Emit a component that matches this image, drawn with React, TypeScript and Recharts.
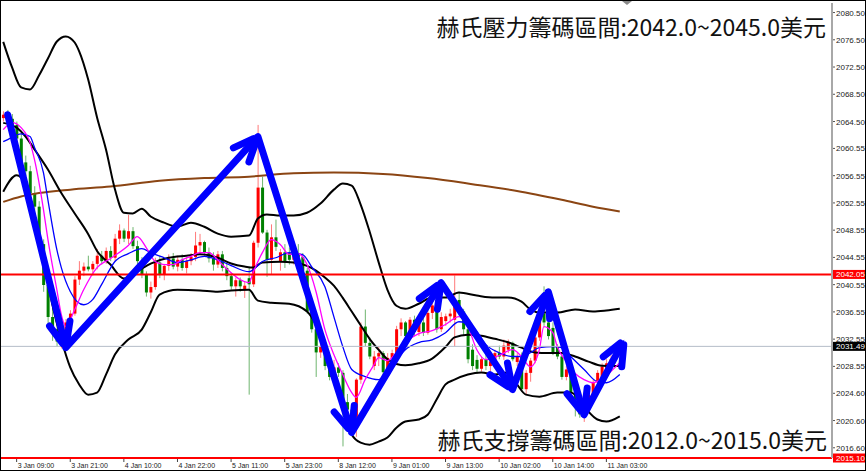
import React from 'react';
import { ComposedChart, Bar, Line, XAxis, YAxis, ReferenceLine } from 'recharts';

// ---- data ----
// [open, high, low, close] per hourly bar
const ohlc: [number, number, number, number][] = [
  [2065.0, 2066.0, 2064.5, 2065.5],
  [2065.5, 2066.2, 2064.6, 2064.9],
  [2064.9, 2065.6, 2063.5, 2064.0],
  [2064.0, 2064.5, 2061.5, 2062.0],
  [2062.0, 2062.8, 2058.0, 2058.5],
  [2058.5, 2059.5, 2056.5, 2057.2],
  [2057.2, 2058.0, 2053.5, 2054.0],
  [2054.0, 2055.0, 2051.0, 2052.0],
  [2052.0, 2052.8, 2045.5, 2046.5],
  [2046.5, 2047.2, 2039.5, 2040.5],
  [2040.5, 2041.5, 2034.5, 2035.8],
  [2035.8, 2037.5, 2032.3, 2034.0],
  [2034.0, 2035.0, 2031.5, 2032.2],
  [2032.2, 2033.5, 2031.2, 2032.8],
  [2032.8, 2035.5, 2032.0, 2035.0],
  [2035.0, 2036.8, 2034.3, 2036.3],
  [2036.3, 2041.8, 2036.0, 2041.3],
  [2041.3, 2044.0, 2040.5, 2042.6],
  [2042.6, 2043.8, 2041.8, 2043.2],
  [2043.2, 2044.8, 2042.5, 2042.8],
  [2042.8, 2044.0, 2041.9, 2043.6],
  [2043.6, 2045.8, 2042.8, 2044.8],
  [2044.8, 2045.5, 2043.5, 2044.0],
  [2044.0, 2046.0, 2043.6, 2045.5],
  [2045.5, 2046.2, 2044.0, 2044.5],
  [2044.5, 2048.0, 2044.0, 2047.3],
  [2047.3, 2049.4, 2046.5, 2048.5],
  [2048.5, 2048.8, 2046.8, 2047.3],
  [2047.3, 2050.8, 2046.5, 2048.4],
  [2048.4, 2049.0, 2045.8, 2046.2],
  [2046.2, 2047.0, 2043.5, 2044.0],
  [2044.0, 2044.6, 2041.5, 2042.0],
  [2042.0, 2042.5, 2038.8, 2039.4],
  [2039.4, 2041.0, 2038.5, 2040.2],
  [2040.2, 2044.5, 2039.8, 2043.8],
  [2043.8, 2044.8, 2041.5, 2042.0],
  [2042.0, 2043.6, 2041.2, 2043.3],
  [2043.3, 2045.0, 2042.6, 2044.4],
  [2044.4, 2045.2, 2042.8, 2043.2],
  [2043.2, 2044.8, 2042.5, 2044.2],
  [2044.2, 2045.0, 2042.6, 2043.0],
  [2043.0, 2044.6, 2042.2, 2044.0],
  [2044.0, 2045.2, 2043.4, 2044.6],
  [2044.6, 2048.3, 2044.0, 2046.3],
  [2046.3, 2048.0, 2045.0, 2046.8],
  [2046.8, 2047.0, 2044.8, 2045.3],
  [2045.3, 2046.0, 2043.8, 2044.4],
  [2044.4, 2045.3, 2042.6, 2043.5],
  [2043.5, 2045.5, 2043.0, 2045.0],
  [2045.0, 2045.5, 2042.5, 2043.0],
  [2043.0, 2043.8, 2041.2, 2041.8],
  [2041.8, 2042.3, 2039.8, 2040.3],
  [2040.3, 2041.6, 2038.8, 2041.2],
  [2041.2, 2041.6, 2039.5, 2040.3],
  [2039.8, 2041.0, 2038.6, 2040.4],
  [2041.5, 2043.2, 2024.4, 2040.6],
  [2040.6, 2047.0, 2040.2, 2046.7],
  [2046.7, 2064.0, 2046.0, 2054.8],
  [2054.8, 2056.4, 2048.0, 2048.2],
  [2048.2, 2048.6, 2041.7, 2044.2],
  [2044.2, 2049.4, 2042.0, 2047.5],
  [2047.5, 2050.1, 2045.5, 2046.1],
  [2044.0, 2045.8, 2042.6, 2045.3],
  [2045.3, 2046.5, 2043.0, 2044.0],
  [2045.2, 2046.0, 2043.5, 2044.2],
  [2044.2, 2045.5, 2043.5, 2045.0],
  [2045.0, 2046.5, 2044.2, 2044.6],
  [2044.6, 2045.2, 2042.2, 2042.6],
  [2042.6, 2043.0, 2036.3, 2036.6],
  [2036.6, 2037.5, 2033.5, 2034.0],
  [2034.0, 2034.6, 2027.0, 2030.6],
  [2030.6, 2032.0, 2029.8, 2031.4],
  [2031.4, 2031.8, 2028.0, 2028.6],
  [2028.6, 2030.0, 2026.5, 2027.0],
  [2027.0, 2029.5, 2026.5, 2028.4],
  [2028.4, 2029.0, 2027.0, 2027.6],
  [2027.6, 2028.0, 2016.8, 2023.3],
  [2023.3, 2024.5, 2021.0, 2022.2],
  [2022.2, 2023.0, 2018.5, 2019.5],
  [2019.5, 2026.8, 2018.2, 2026.6],
  [2026.6, 2035.0, 2026.0, 2034.4],
  [2034.4, 2036.9, 2031.5, 2032.0],
  [2032.0, 2032.8, 2029.6, 2030.0],
  [2028.6, 2030.8, 2028.0, 2030.0],
  [2030.0, 2031.5, 2028.6, 2030.5],
  [2030.5, 2030.8, 2027.2, 2027.7],
  [2027.7, 2030.5, 2027.0, 2029.8],
  [2029.8, 2031.0, 2028.2, 2030.5],
  [2030.5, 2034.5, 2030.0, 2034.0],
  [2034.0, 2035.6, 2033.0, 2035.0],
  [2035.0, 2035.2, 2032.5, 2033.0],
  [2033.0, 2035.8, 2032.8, 2035.4],
  [2035.4, 2036.0, 2033.0, 2033.6],
  [2033.6, 2035.5, 2033.0, 2035.0],
  [2035.0, 2036.5, 2033.0, 2033.5],
  [2033.5, 2037.0, 2033.2, 2036.4],
  [2036.4, 2038.2, 2035.5, 2037.5],
  [2037.5, 2037.8, 2033.5, 2034.0],
  [2034.0, 2036.5, 2033.6, 2035.8],
  [2035.2, 2036.3, 2034.5, 2035.9],
  [2035.9, 2037.0, 2035.0, 2036.3],
  [2035.4, 2041.9, 2031.5, 2038.3],
  [2038.3, 2039.5, 2036.0, 2036.6],
  [2036.6, 2037.0, 2033.0, 2034.0],
  [2034.0, 2034.4, 2029.0, 2029.6],
  [2031.0, 2031.8, 2028.0, 2028.6],
  [2029.5, 2030.2, 2027.5, 2028.2],
  [2028.2, 2030.0, 2027.8, 2029.6],
  [2029.6, 2030.5, 2028.0, 2028.6],
  [2028.6, 2029.8, 2027.8, 2029.3],
  [2029.3, 2031.0, 2028.5, 2030.5],
  [2030.5, 2031.6, 2029.6, 2030.0],
  [2030.0, 2032.5, 2029.5, 2031.6],
  [2031.0, 2032.5, 2030.5, 2032.0],
  [2032.0, 2032.2, 2029.3, 2029.6],
  [2029.2, 2030.5, 2028.6, 2030.0],
  [2030.0, 2030.6, 2024.8, 2025.2],
  [2025.2, 2028.0, 2024.5, 2027.6],
  [2027.6, 2029.8, 2026.3, 2029.4],
  [2029.4, 2033.2, 2029.0, 2032.8],
  [2032.8, 2036.0, 2032.3, 2035.6],
  [2036.3, 2040.3, 2034.5, 2035.0],
  [2035.0, 2035.5, 2032.5, 2033.0],
  [2034.2, 2035.0, 2030.2, 2030.6],
  [2031.4, 2031.8, 2029.6, 2030.0],
  [2030.0, 2030.5, 2026.6, 2027.0],
  [2027.0, 2028.6, 2026.5, 2028.1],
  [2027.2, 2027.8, 2024.3, 2024.7],
  [2025.1, 2025.6, 2021.2, 2023.7],
  [2023.7, 2024.2, 2021.0, 2021.5],
  [2021.2, 2023.0, 2020.4, 2022.6],
  [2022.8, 2024.8, 2022.3, 2024.4],
  [2024.4, 2026.6, 2024.0, 2026.2],
  [2026.2, 2028.0, 2025.8, 2027.6],
  [2027.0, 2029.0, 2026.6, 2028.5],
  [2028.0, 2029.6, 2027.5, 2029.0],
  [2028.6, 2030.2, 2028.0, 2029.6],
  [2029.6, 2031.0, 2029.0, 2030.5],
  [2030.3, 2031.8, 2030.0, 2031.49],
];

// [bar, value] samples of the indicator lines
const upperBand: [number, number][] = [
  [0, 2076.2], [2, 2072.4], [4, 2069.5], [6, 2069.2], [8, 2071.25], [10, 2073.75], [12, 2076.25],
  [14, 2077.0], [16, 2076.1], [17, 2074.8], [19, 2070.7], [21, 2065.1], [23, 2060.4], [25, 2054.55],
  [27, 2051.1], [29, 2051.0], [31, 2051.7], [33, 2050.55], [36, 2049.65], [39, 2049.05], [42, 2049.65],
  [45, 2049.05], [48, 2048.05], [51, 2047.6], [55, 2047.75], [57, 2050.25], [59, 2050.85], [62, 2050.7],
  [65, 2050.7], [68, 2051.1], [71, 2052.45], [74, 2054.5], [76, 2055.4], [78, 2055.1], [80, 2052.3],
  [82, 2048.35], [84, 2043.9], [86, 2039.8], [88, 2037.45], [90, 2037.0], [93, 2037.75], [96, 2038.65],
  [99, 2038.65], [102, 2039.4], [106, 2038.95], [110, 2038.65], [113, 2038.65], [116, 2038.05],
  [118, 2036.9], [120, 2036.45], [124, 2036.45], [128, 2036.9], [132, 2036.6], [135, 2036.75], [138, 2037.0],
];
const middleBand: [number, number][] = [
  [0, 2064.3], [3, 2063.6], [5, 2062.3], [7, 2060.4], [10, 2057.45], [13, 2054.0], [16, 2051.0],
  [19, 2048.0], [21, 2045.5], [24, 2043.5], [27, 2041.45], [30, 2042.5], [33, 2043.65], [37, 2044.5],
  [41, 2044.8], [44, 2045.0], [48, 2044.5], [51, 2043.65], [54, 2043.2], [56, 2043.05], [58, 2043.8],
  [62, 2043.9], [65, 2043.8], [68, 2043.3], [70, 2042.6], [72, 2041.6], [74, 2040.4], [76, 2038.6],
  [78, 2036.6], [80, 2034.6], [82, 2032.6], [84, 2031.0], [86, 2029.6], [88, 2028.9], [90, 2028.7],
  [93, 2029.0], [96, 2029.7], [99, 2031.4], [101, 2032.8], [104, 2033.2], [107, 2033.05], [110, 2032.6],
  [113, 2032.1], [116, 2031.3], [119, 2030.6], [122, 2030.5], [125, 2030.5], [128, 2030.0],
  [131, 2029.25], [134, 2028.65], [138, 2028.6],
];
const lowerBand: [number, number][] = [
  [0, 2054.2], [3, 2056.6], [5, 2055.25], [7, 2050.85], [9, 2044.2], [11, 2037.6], [13, 2032.5],
  [15, 2028.4], [17, 2025.9], [19, 2024.4], [21, 2024.7], [23, 2027.35], [25, 2030.3], [28, 2032.5],
  [31, 2033.95], [33, 2036.45], [35, 2039.1], [39, 2039.8], [44, 2039.7], [48, 2039.5], [51, 2039.7],
  [55, 2039.8], [57, 2038.2], [60, 2037.9], [64, 2037.75], [68, 2036.6], [70, 2034.7], [72, 2031.75],
  [74, 2027.35], [76, 2022.2], [78, 2018.55], [80, 2017.35], [82, 2017.05], [84, 2017.5], [86, 2018.1],
  [88, 2019.55], [90, 2020.45], [93, 2020.75], [95, 2021.45], [97, 2023.7], [99, 2025.9], [101, 2026.6],
  [104, 2027.35], [107, 2027.65], [110, 2027.35], [113, 2027.65], [115, 2025.9], [117, 2024.4],
  [120, 2024.1], [124, 2024.7], [127, 2024.7], [129, 2023.7], [131, 2021.9], [133, 2020.75],
  [135, 2020.45], [138, 2021.2],
];
const blueMa: [number, number][] = [
  [0, 2061.55], [1, 2061.85], [4, 2062.7], [6, 2062.3], [7, 2060.7], [9, 2057.0], [10, 2053.0],
  [12, 2045.7], [13, 2043.05], [15, 2039.55], [18, 2037.6], [20, 2038.35], [22, 2040.55], [25, 2043.95],
  [28, 2045.1], [31, 2045.85], [33, 2045.25], [36, 2044.5], [39, 2043.8], [42, 2044.2], [45, 2044.7],
  [48, 2044.2], [51, 2043.35], [55, 2042.45], [57, 2043.35], [58, 2043.95], [61, 2044.5], [64, 2045.25],
  [67, 2044.95], [69, 2043.2], [72, 2040.25], [74, 2035.85], [76, 2031.45], [78, 2028.1], [81, 2027.05],
  [84, 2026.6], [86, 2027.05], [88, 2029.55], [90, 2031.0], [93, 2032.05], [96, 2032.45], [99, 2033.5],
  [102, 2035.1], [105, 2034.4], [108, 2031.75], [111, 2030.55], [114, 2030.0], [116, 2030.0],
  [118, 2030.55], [120, 2031.3], [123, 2031.45], [125, 2031.3], [127, 2030.0], [130, 2028.1],
  [133, 2026.3], [135, 2026.15], [138, 2027.35],
];
const magentaMa: [number, number][] = [
  [0, 2063.3], [2, 2064.35], [4, 2063.6], [6, 2061.4], [7, 2058.9], [9, 2051.6], [10, 2047.2],
  [12, 2039.8], [13, 2036.15], [14, 2034.4], [16, 2036.9], [18, 2039.8], [21, 2043.05], [24, 2044.4],
  [28, 2046.3], [30, 2047.6], [32, 2046.0], [34, 2043.95], [36, 2043.5], [38, 2043.5], [40, 2044.2],
  [42, 2044.7], [44, 2045.25], [46, 2045.25], [48, 2044.2], [49, 2043.5], [51, 2042.3], [53, 2041.3],
  [55, 2040.85], [56, 2042.45], [58, 2045.25], [60, 2047.15], [62, 2046.45], [64, 2045.0], [66, 2045.1],
  [68, 2043.5], [70, 2039.55], [72, 2033.95], [74, 2030.3], [76, 2027.35], [78, 2024.7], [79, 2024.0],
  [81, 2026.6], [83, 2028.8], [84, 2029.85], [86, 2029.4], [88, 2030.55], [90, 2032.05], [93, 2033.35],
  [96, 2033.8], [99, 2034.7], [102, 2035.85], [104, 2034.4], [106, 2031.0], [108, 2029.55],
  [111, 2030.15], [114, 2031.0], [116, 2030.0], [118, 2028.5], [120, 2031.0], [121, 2034.4],
  [123, 2033.5], [124, 2031.45], [126, 2029.25], [128, 2027.5], [130, 2026.6], [132, 2026.15],
  [134, 2026.75], [136, 2027.8], [138, 2029.1],
];
const brownMa: [number, number][] = [
  [0, 2052.7], [4, 2053.5], [8, 2054.0], [15, 2054.5], [24, 2054.95], [35, 2055.8], [45, 2056.2],
  [55, 2056.4], [65, 2056.9], [74, 2057.0], [85, 2056.8], [95, 2056.2], [105, 2055.3], [115, 2054.3],
  [125, 2053.0], [132, 2052.0], [138, 2051.3],
];

// zig-zag arrow pivots [bar, price]
const arrowPivots: [number, number][] = [
  [1, 2065.5], [14, 2031.3], [57, 2062.3], [78, 2018.85], [98, 2040.85],
  [114, 2025.15], [122, 2039.5], [130, 2021.45], [139, 2032.45],
];

const xTickBars = [3, 15, 27, 39, 51, 63, 75, 87, 99, 111, 123, 135];
const xTickLabels = [
  '3 Jan 09:00', '3 Jan 21:00', '4 Jan 10:00', '4 Jan 22:00', '5 Jan 11:00', '5 Jan 23:00',
  '8 Jan 12:00', '9 Jan 01:00', '9 Jan 13:00', '10 Jan 02:00', '10 Jan 14:00', '11 Jan 03:00',
];
const yTicks = [
  2080.5, 2076.5, 2072.5, 2068.5, 2064.5, 2060.55, 2056.55, 2052.55, 2048.55, 2044.55,
  2040.55, 2036.55, 2032.55, 2028.55, 2024.6, 2020.6, 2016.6,
];
const resistanceLevel = 2042.05;
const lastPrice = 2031.49;
const bottomLevel = 2015.1;
const highlightTicks: [number, string][] = [
  [resistanceLevel, '#ff0000'],
  [lastPrice, '#000000'],
  [bottomLevel, '#ff0000'],
];
const titleTop = '赫氏壓力籌碼區間:2042.0~2045.0美元';
const titleBottom = '赫氏支撐籌碼區間:2012.0~2015.0美元';

const SLOTS = 186;

// ---- table ----
const upM = new Map(upperBand);
const midM = new Map(middleBand);
const loM = new Map(lowerBand);
const blM = new Map(blueMa);
const mgM = new Map(magentaMa);
const brM = new Map(brownMa);
const data = Array.from({ length: SLOTS }, (_, i) => {
  const k = ohlc[i];
  return {
    i,
    range: k ? [k[2], k[1]] : null,
    o: k ? k[0] : null,
    h: k ? k[1] : null,
    l: k ? k[2] : null,
    c: k ? k[3] : null,
    upper: upM.has(i) ? upM.get(i) : null,
    mid: midM.has(i) ? midM.get(i) : null,
    lower: loM.has(i) ? loM.get(i) : null,
    blue: blM.has(i) ? blM.get(i) : null,
    magenta: mgM.has(i) ? mgM.get(i) : null,
    brown: brM.has(i) ? brM.get(i) : null,
  };
});

const xLabelMap = new Map(xTickBars.map((b, j) => [b, xTickLabels[j]]));
const highlightMap = new Map(highlightTicks);
const AXIS_FONT = "'Liberation Sans', Arial, sans-serif";

const Candle = (props: any) => {
  const { x, y, width, height, payload } = props;
  if (!payload || payload.o == null || x == null || y == null) return null;
  const { o, h, l, c } = payload;
  const top = Math.min(y, y + height);
  const hh = Math.abs(height);
  const k = h - l > 0 ? hh / (h - l) : 0;
  const yO = top + (h - o) * k;
  const yC = top + (h - c) * k;
  const up = c >= o;
  const cx = x + width / 2;
  const bTop = Math.min(yO, yC);
  const bH = Math.max(1, Math.abs(yO - yC));
  return (
    <g>
      <line x1={cx} x2={cx} y1={top} y2={top + hh} stroke={up ? '#ff7a7a' : '#6fb56f'} strokeWidth={1} />
      <rect x={cx - 1.5} y={bTop} width={3} height={bH} fill={up ? '#ff0000' : '#008000'} />
    </g>
  );
};

const XTick = (props: any) => {
  const { x, y, payload } = props;
  const lbl = xLabelMap.get(payload?.value);
  if (!lbl) return <g />;
  return (
    <g>
      <line x1={x} x2={x} y1={y + 1} y2={y + 4} stroke="#444" strokeWidth={1} />
      <text x={x + 1} y={y + 10} fontSize={7} fontFamily={AXIS_FONT} fill="#222" textAnchor="start">
        {lbl}
      </text>
    </g>
  );
};

const YTick = (props: any) => {
  const { x, y, payload } = props;
  const v = payload?.value as number;
  const hl = highlightMap.get(v);
  if (hl) {
    return (
      <g>
        <rect x={x + 1} y={y - 4.5} width={34} height={9} fill={hl} />
        <text x={x + 4} y={y + 3} fontSize={8} fontFamily={AXIS_FONT} fill="#ffffff">
          {v.toFixed(2)}
        </text>
      </g>
    );
  }
  return (
    <g>
      <line x1={x + 1} x2={x + 3} y1={y} y2={y} stroke="#555" strokeWidth={1} />
      <text x={x + 4} y={y + 3} fontSize={8} fontFamily={AXIS_FONT} fill="#222">
        {v.toFixed(2)}
      </text>
    </g>
  );
};

const ArrowShape = (props: any) => {
  const { x1, y1, x2, y2 } = props;
  if ([x1, y1, x2, y2].some((v) => v == null || Number.isNaN(v))) return null;
  const dx = x2 - x1;
  const dy = y2 - y1;
  const len = Math.hypot(dx, dy) || 1;
  const ux = dx / len;
  const uy = dy / len;
  const bx = -ux;
  const by = -uy;
  const rot = (a: number) => [bx * Math.cos(a) - by * Math.sin(a), bx * Math.sin(a) + by * Math.cos(a)];
  const [w1x, w1y] = rot(0.4);
  const [w2x, w2y] = rot(-0.4);
  const wing = 27;
  const tipL = 16;
  const col = '#0000ff';
  return (
    <g>
      <line x1={x1} y1={y1} x2={x2 - ux * 8} y2={y2 - uy * 8} stroke={col} strokeWidth={7} strokeLinecap="round" />
      <line x1={x2 + w1x * 5} y1={y2 + w1y * 5} x2={x2 + w1x * wing} y2={y2 + w1y * wing} stroke={col} strokeWidth={7} strokeLinecap="round" />
      <line x1={x2 + w2x * 5} y1={y2 + w2y * 5} x2={x2 + w2x * wing} y2={y2 + w2y * wing} stroke={col} strokeWidth={7} strokeLinecap="round" />
      <polygon
        points={`${x2},${y2} ${x2 + w1x * tipL},${y2 + w1y * tipL} ${x2 + w2x * tipL},${y2 + w2y * tipL}`}
        fill={col}
      />
    </g>
  );
};

export default function App() {
  return (
    <div style={{ position: 'absolute', left: 0, top: 0, width: 866, height: 471, background: '#fff' }}>
      <ComposedChart
        width={866}
        height={471}
        data={data}
        margin={{ top: 3, right: 0, bottom: 0, left: 1 }}
      >
        <XAxis
          dataKey="i"
          type="category"
          interval={0}
          height={13}
          tickSize={0}
          tickMargin={0}
          tickLine={false}
          axisLine={false}
          tick={<XTick />}
        />
        <YAxis
          orientation="right"
          type="number"
          domain={[2015.1, 2081.9]}
          allowDataOverflow
          ticks={[...yTicks, ...highlightTicks.map((t) => t[0])]}
          interval={0}
          width={34}
          tickSize={0}
          tickMargin={0}
          tickLine={false}
          axisLine={{ stroke: '#a8a8a8', strokeWidth: 2 }}
          tick={<YTick />}
        />
        <Bar dataKey="range" shape={Candle} isAnimationActive={false} />
        <Line dataKey="brown" type="monotone" stroke="#8b4513" strokeWidth={2} dot={false} connectNulls isAnimationActive={false} />
        <Line dataKey="upper" type="monotone" stroke="#000" strokeWidth={2} dot={false} connectNulls isAnimationActive={false} />
        <Line dataKey="mid" type="monotone" stroke="#000" strokeWidth={2} dot={false} connectNulls isAnimationActive={false} />
        <Line dataKey="lower" type="monotone" stroke="#000" strokeWidth={2} dot={false} connectNulls isAnimationActive={false} />
        <Line dataKey="blue" type="monotone" stroke="#0000ff" strokeWidth={1.3} dot={false} connectNulls isAnimationActive={false} />
        <Line dataKey="magenta" type="monotone" stroke="#ff00ff" strokeWidth={1.3} dot={false} connectNulls isAnimationActive={false} />
        <ReferenceLine y={resistanceLevel} stroke="#ff0000" strokeWidth={2} ifOverflow="visible" />
        <ReferenceLine y={lastPrice} stroke="#b4bcc8" strokeWidth={1} ifOverflow="visible" />
        <ReferenceLine y={bottomLevel} stroke="#ff0000" strokeWidth={2} ifOverflow="visible" />
        {arrowPivots.slice(1).map((p, j) => (
          <ReferenceLine
            key={`arrow-${j}`}
            segment={[
              { x: arrowPivots[j][0], y: arrowPivots[j][1] },
              { x: p[0], y: p[1] },
            ]}
            ifOverflow="visible"
            shape={ArrowShape}
          />
        ))}
      </ComposedChart>
      <svg
        width={866}
        height={471}
        style={{ position: 'absolute', left: 0, top: 0, pointerEvents: 'none' }}
      >
        <text
          x={826}
          y={35.5}
          textAnchor="end"
          fontSize={23}
          fontFamily="'Noto Sans CJK TC', 'Noto Sans CJK SC', sans-serif"
          fill="#111"
        >
          {titleTop}
        </text>
        <text
          x={827}
          y={449}
          textAnchor="end"
          fontSize={23}
          fontFamily="'Noto Sans CJK TC', 'Noto Sans CJK SC', sans-serif"
          fill="#111"
        >
          {titleBottom}
        </text>
        <polygon points="622,1 632,1 627,5" fill="#8a8a8a" />
        <rect x={0.5} y={0.5} width={865} height={470} fill="none" stroke="#000" strokeWidth={1} />
      </svg>
    </div>
  );
}
